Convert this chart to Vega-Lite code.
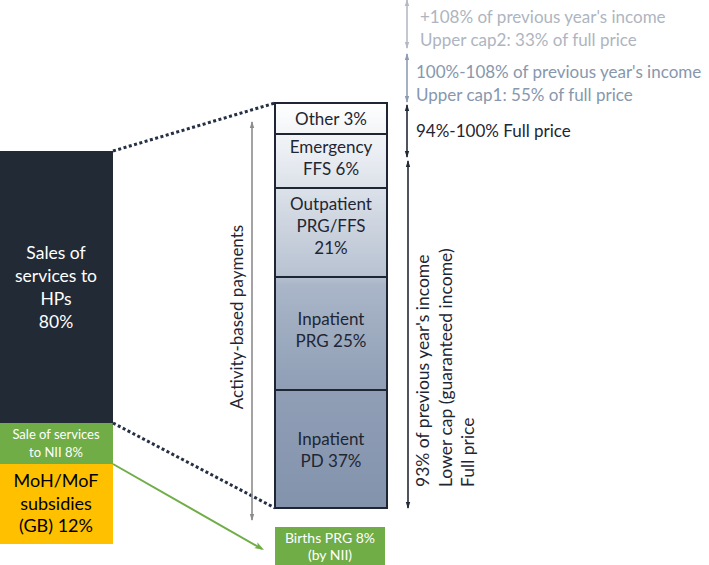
{
  "$schema": "https://vega.github.io/schema/vega-lite/v6.json",
  "width": 709,
  "height": 565,
  "autosize": {"type": "none"},
  "padding": 0,
  "background": "white",
  "config": {"view": {"stroke": null}, "font": "Lato", "text": {"font": "Lato"}},
  "encoding": {
    "x": {"type": "quantitative", "scale": {"domain": [0, 709], "nice": false, "zero": false}, "axis": null},
    "y": {"type": "quantitative", "scale": {"domain": [0, 565], "nice": false, "zero": false, "reverse": true}, "axis": null}
  },
  "resolve": {"scale": {"color": "independent"}},
  "layer": [
    {
      "data": {"values": [
        {"seg": "Sales of services to HPs", "share": 80, "x": 0, "x2": 113, "y": 151, "y2": 423},
        {"seg": "Sale of services to NII", "share": 8, "x": 0, "x2": 113, "y": 423, "y2": 464},
        {"seg": "MoH/MoF subsidies (GB)", "share": 12, "x": 0, "x2": 113, "y": 464, "y2": 544},
        {"seg": "Births PRG (by NII)", "share": 8, "x": 275, "x2": 385, "y": 527, "y2": 570}
      ]},
      "mark": {"type": "rect"},
      "encoding": {
        "x": {"field": "x", "type": "quantitative"},
        "x2": {"field": "x2"},
        "y": {"field": "y", "type": "quantitative"},
        "y2": {"field": "y2"},
        "color": {"field": "seg", "type": "nominal", "legend": null,
          "scale": {"domain": ["Sales of services to HPs", "Sale of services to NII", "MoH/MoF subsidies (GB)", "Births PRG (by NII)"],
                    "range": ["#222a35", "#70ad47", "#ffc000", "#70ad47"]}}
      }
    },
    {
      "data": {"values": [{"bar": "Activity-based payments", "x": 275, "x2": 387, "y": 103, "y2": 508}]},
      "mark": {"type": "rect", "fill": {"gradient": "linear", "x1": 0, "y1": 0, "x2": 0, "y2": 1,
        "stops": [
          {"offset": 0, "color": "#ffffff"},
          {"offset": 0.15, "color": "#e6eaf0"},
          {"offset": 0.42, "color": "#b9c3d2"},
          {"offset": 0.45, "color": "#aab6c8"},
          {"offset": 0.7, "color": "#909fb6"},
          {"offset": 1, "color": "#8393ac"}
        ]}},
      "encoding": {
        "x": {"field": "x", "type": "quantitative"},
        "x2": {"field": "x2"},
        "y": {"field": "y", "type": "quantitative"},
        "y2": {"field": "y2"}
      }
    },
    {
      "data": {"values": [
        {"seg": "Other", "share": 3, "x": 275, "x2": 387, "y": 103, "y2": 134},
        {"seg": "Emergency FFS", "share": 6, "x": 275, "x2": 387, "y": 134, "y2": 188},
        {"seg": "Outpatient PRG/FFS", "share": 21, "x": 275, "x2": 387, "y": 188, "y2": 277},
        {"seg": "Inpatient PRG", "share": 25, "x": 275, "x2": 387, "y": 277, "y2": 390},
        {"seg": "Inpatient PD", "share": 37, "x": 275, "x2": 387, "y": 390, "y2": 508}
      ]},
      "mark": {"type": "rect", "fill": "transparent", "stroke": "#1f2633", "strokeWidth": 2},
      "encoding": {
        "x": {"field": "x", "type": "quantitative"},
        "x2": {"field": "x2"},
        "y": {"field": "y", "type": "quantitative"},
        "y2": {"field": "y2"}
      }
    },
    {
      "data": {"values": [
        {"link": "top", "x": 113, "y": 151, "x2": 275, "y2": 103},
        {"link": "bottom", "x": 113, "y": 423, "x2": 275, "y2": 508}
      ]},
      "mark": {"type": "rule", "stroke": "#253044", "strokeWidth": 3, "strokeDash": [3, 2.5]},
      "encoding": {
        "x": {"field": "x", "type": "quantitative"},
        "x2": {"field": "x2"},
        "y": {"field": "y", "type": "quantitative"},
        "y2": {"field": "y2"}
      }
    },
    {
      "data": {"values": [
        {"arrow": "NII births", "x": 113, "y": 464, "x2": 262, "y2": 549}
      ]},
      "mark": {"type": "rule", "stroke": "#70ad47", "strokeWidth": 2},
      "encoding": {
        "x": {"field": "x", "type": "quantitative"},
        "x2": {"field": "x2"},
        "y": {"field": "y", "type": "quantitative"},
        "y2": {"field": "y2"}
      }
    },
    {
      "data": {"values": [
        {"arrow": "activity", "g": "grey", "x": 252, "y": 122, "y2": 520},
        {"arrow": "cap2", "g": "light", "x": 407, "y": 0, "y2": 48},
        {"arrow": "cap1", "g": "mid", "x": 407, "y": 54, "y2": 102},
        {"arrow": "full", "g": "dark", "x": 407, "y": 105, "y2": 157},
        {"arrow": "lower", "g": "dark", "x": 408, "y": 161, "y2": 508}
      ]},
      "mark": {"type": "rule", "strokeWidth": 1.6},
      "encoding": {
        "x": {"field": "x", "type": "quantitative"},
        "y": {"field": "y", "type": "quantitative"},
        "y2": {"field": "y2"},
        "color": {"field": "g", "type": "nominal", "legend": null,
          "scale": {"domain": ["grey", "light", "mid", "dark"], "range": ["#8c8c8c", "#b3bac5", "#8e9cb3", "#222a35"]}}
      }
    },
    {
      "data": {"values": [
        {"arrow": "activity", "g": "grey", "x": 252, "y": 121},
        {"arrow": "cap2", "g": "light", "x": 407, "y": -1},
        {"arrow": "cap1", "g": "mid", "x": 407, "y": 53},
        {"arrow": "full", "g": "dark", "x": 407, "y": 104},
        {"arrow": "lower", "g": "dark", "x": 408, "y": 160}
      ]},
      "mark": {"type": "point", "filled": true, "opacity": 1, "size": 40, "shape": "M0,0L-0.7,2.2L0.7,2.2Z"},
      "encoding": {
        "x": {"field": "x", "type": "quantitative"},
        "y": {"field": "y", "type": "quantitative"},
        "color": {"field": "g", "type": "nominal", "legend": null,
          "scale": {"domain": ["grey", "light", "mid", "dark"], "range": ["#8c8c8c", "#b3bac5", "#8e9cb3", "#222a35"]}}
      }
    },
    {
      "data": {"values": [
        {"arrow": "activity", "g": "grey", "x": 252, "y": 521},
        {"arrow": "cap2", "g": "light", "x": 407, "y": 49},
        {"arrow": "cap1", "g": "mid", "x": 407, "y": 103},
        {"arrow": "full", "g": "dark", "x": 407, "y": 158},
        {"arrow": "lower", "g": "dark", "x": 408, "y": 509}
      ]},
      "mark": {"type": "point", "filled": true, "opacity": 1, "size": 40, "shape": "M0,0L-0.7,-2.2L0.7,-2.2Z"},
      "encoding": {
        "x": {"field": "x", "type": "quantitative"},
        "y": {"field": "y", "type": "quantitative"},
        "color": {"field": "g", "type": "nominal", "legend": null,
          "scale": {"domain": ["grey", "light", "mid", "dark"], "range": ["#8c8c8c", "#b3bac5", "#8e9cb3", "#222a35"]}}
      }
    },
    {
      "data": {"values": [{"arrow": "NII births", "x": 264, "y": 550}]},
      "mark": {"type": "point", "filled": true, "opacity": 1, "size": 36, "angle": 299.8, "color": "#70ad47",
        "shape": "M0,0L-1.1,-3.2L0,-2.4L1.1,-3.2Z"},
      "encoding": {
        "x": {"field": "x", "type": "quantitative"},
        "y": {"field": "y", "type": "quantitative"}
      }
    },
    {
      "data": {"values": [
        {"label": "Sales of\nservices to\nHPs\n80%", "x": 56, "y": 254}
      ]},
      "mark": {"type": "text", "color": "#ffffff", "fontSize": 17.5, "lineBreak": "\n", "lineHeight": 23, "align": "center", "baseline": "middle"},
      "encoding": {"x": {"field": "x", "type": "quantitative"}, "y": {"field": "y", "type": "quantitative"}, "text": {"field": "label"}}
    },
    {
      "data": {"values": [
        {"label": "Sale of services\nto NII 8%", "x": 56, "y": 435}
      ]},
      "mark": {"type": "text", "color": "#ffffff", "fontSize": 13, "lineBreak": "\n", "lineHeight": 17.5, "align": "center", "baseline": "middle"},
      "encoding": {"x": {"field": "x", "type": "quantitative"}, "y": {"field": "y", "type": "quantitative"}, "text": {"field": "label"}}
    },
    {
      "data": {"values": [
        {"label": "MoH/MoF\nsubsidies\n(GB) 12%", "x": 56, "y": 482}
      ]},
      "mark": {"type": "text", "color": "#000000", "fontSize": 18, "lineBreak": "\n", "lineHeight": 22.5, "align": "center", "baseline": "middle"},
      "encoding": {"x": {"field": "x", "type": "quantitative"}, "y": {"field": "y", "type": "quantitative"}, "text": {"field": "label"}}
    },
    {
      "data": {"values": [
        {"label": "Births PRG 8%\n(by NII)", "x": 330, "y": 539}
      ]},
      "mark": {"type": "text", "color": "#ffffff", "fontSize": 14, "lineBreak": "\n", "lineHeight": 16.5, "align": "center", "baseline": "middle"},
      "encoding": {"x": {"field": "x", "type": "quantitative"}, "y": {"field": "y", "type": "quantitative"}, "text": {"field": "label"}}
    },
    {
      "data": {"values": [
        {"label": "Other 3%", "x": 331, "y": 120},
        {"label": "Emergency\nFFS 6%", "x": 331, "y": 148},
        {"label": "Outpatient\nPRG/FFS\n21%", "x": 331, "y": 205},
        {"label": "Inpatient\nPRG 25%", "x": 331, "y": 320},
        {"label": "Inpatient\nPD 37%", "x": 331, "y": 440}
      ]},
      "mark": {"type": "text", "color": "#1f2633", "fontSize": 17, "lineBreak": "\n", "lineHeight": 22, "align": "center", "baseline": "middle"},
      "encoding": {"x": {"field": "x", "type": "quantitative"}, "y": {"field": "y", "type": "quantitative"}, "text": {"field": "label"}}
    },
    {
      "data": {"values": [
        {"label": "Activity-based payments", "x": 238, "y": 317}
      ]},
      "mark": {"type": "text", "color": "#1f2633", "fontSize": 17, "angle": 270, "align": "center", "baseline": "middle"},
      "encoding": {"x": {"field": "x", "type": "quantitative"}, "y": {"field": "y", "type": "quantitative"}, "text": {"field": "label"}}
    },
    {
      "data": {"values": [
        {"label": "+108% of previous year's income\nUpper cap2: 33% of full price", "g": "light", "x": 420, "y": 18},
        {"label": "100%-108% of previous year's income\nUpper cap1: 55% of full price", "g": "mid", "x": 416, "y": 73},
        {"label": "94%-100% Full price", "g": "dark", "x": 416, "y": 132}
      ]},
      "mark": {"type": "text", "fontSize": 17, "lineBreak": "\n", "lineHeight": 23, "align": "left", "baseline": "middle"},
      "encoding": {
        "x": {"field": "x", "type": "quantitative"}, "y": {"field": "y", "type": "quantitative"}, "text": {"field": "label"},
        "color": {"field": "g", "type": "nominal", "legend": null,
          "scale": {"domain": ["light", "mid", "dark"], "range": ["#aeb5c0", "#8797ae", "#1f2633"]}}
      }
    },
    {
      "data": {"values": [
        {"label": "93% of previous year's income\nLower cap (guaranteed income)\nFull price", "x": 415, "y": 487}
      ]},
      "mark": {"type": "text", "color": "#1f2633", "fontSize": 17.5, "angle": 270, "lineBreak": "\n", "lineHeight": 22.5, "align": "left", "baseline": "top"},
      "encoding": {"x": {"field": "x", "type": "quantitative"}, "y": {"field": "y", "type": "quantitative"}, "text": {"field": "label"}}
    }
  ]
}
